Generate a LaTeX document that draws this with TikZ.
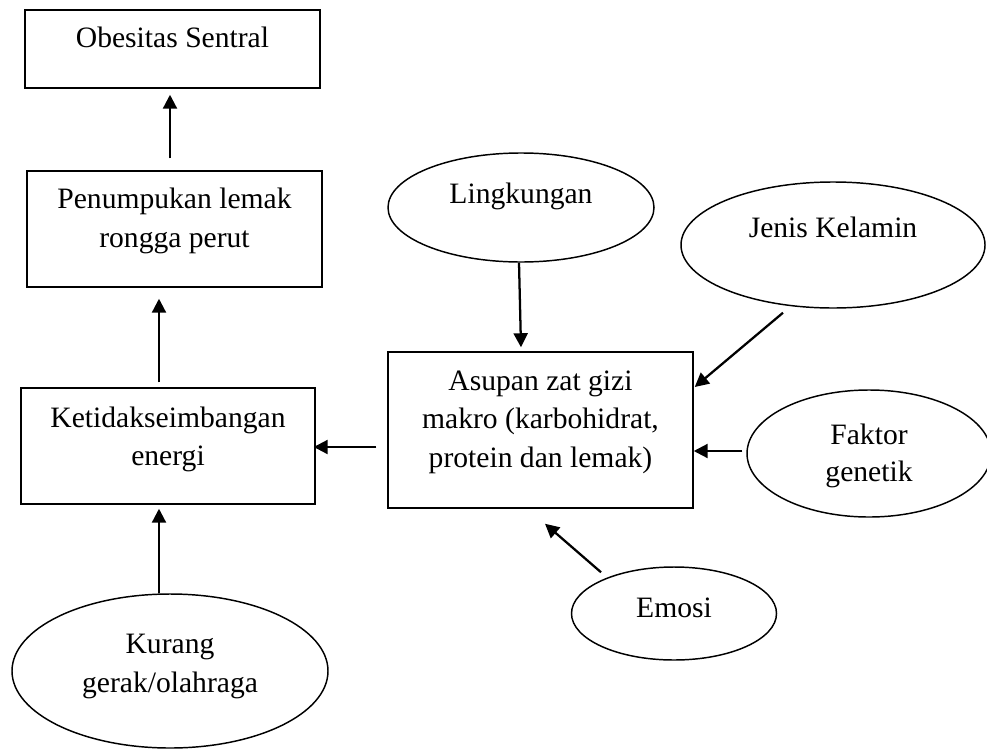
\documentclass[tikz,border=0pt]{standalone}
\usepackage{fontspec}
\setmainfont{Liberation Serif}
\usetikzlibrary{shapes.geometric,arrows.meta}
\begin{document}
\begin{tikzpicture}[x=0.75pt,y=-0.75pt,
  box/.style={draw, line width=1.1pt, inner sep=0pt, rectangle},
  oval/.style={draw, line width=1.1pt, inner sep=0pt, ellipse},
  txt/.style={anchor=base, inner sep=0pt, font=\fontsize{22.2pt}{29pt}\selectfont},
  arr/.style={line width=1.7pt, -{Triangle[length=10.5pt,width=10.5pt]}}]
\useasboundingbox (0,0) rectangle (987,749);
% boxes
\node[box, minimum width=221.25pt, minimum height=58.5pt] (obe) at (172.5,49) {};
\node[box, minimum width=221.25pt, minimum height=87pt] (pen) at (174.5,229) {};
\node[box, minimum width=220.5pt, minimum height=87pt] (ket) at (168,446) {};
\node[box, minimum width=228.75pt, minimum height=117pt] (asu) at (540.5,430) {};
% ellipses
\node[oval, minimum width=199.5pt, minimum height=81.75pt] (ling) at (521,207.5) {};
\node[oval, minimum width=228pt, minimum height=94.5pt] (jen) at (833,245) {};
\node[oval, minimum width=183pt, minimum height=95.25pt] (fak) at (869,453.5) {};
\node[oval, minimum width=153.75pt, minimum height=69.75pt] (emo) at (674,613.5) {};
\node[oval, minimum width=237pt, minimum height=115.5pt] (kur) at (170,671) {};
% texts
\node[txt] (obeT) at (172.5,48) {Obesitas Sentral};
\node[txt] (penT1) at (174.5,208) {Penumpukan lemak};
\node[txt] (penT2) at (174.5,247) {rongga perut};
\node[txt] (ketT1) at (168,427) {Ketidakseimbangan};
\node[txt] (ketT2) at (168,465) {energi};
\node[txt] (kurT1) at (170,653) {Kurang};
\node[txt] (kurT2) at (170,692) {gerak/olahraga};
\node[txt] (asuT1) at (540.5,390) {Asupan zat gizi};
\node[txt] (asuT2) at (540.5,428) {makro (karbohidrat,};
\node[txt] (asuT3) at (540.5,467) {protein dan lemak)};
\node[txt] (lingT) at (521,203) {Lingkungan};
\node[txt] (jenT) at (833,237) {Jenis Kelamin};
\node[txt] (fakT1) at (869,444) {Faktor};
\node[txt] (fakT2) at (869,481) {genetik};
\node[txt] (emoT) at (674,617) {Emosi};
% connectors
\draw[arr] ([xshift=-3.375pt,yshift=9pt]pen.north) -- ([xshift=-1.875pt,yshift=-4.5pt]obe.south);
\draw[arr] ([xshift=-6.75pt,yshift=3.75pt]ket.north) -- ([xshift=-11.625pt,yshift=-8.25pt]pen.south);
\draw[arr] ([xshift=-8.25pt]kur.north) -- ([xshift=-6.75pt,yshift=-3pt]ket.south);
\draw[arr] ([xshift=-8.25pt,yshift=-12.75pt]asu.west) -- ([xshift=-1.5pt,yshift=-0.75pt]ket.east);
\draw[arr] ([xshift=-1.5pt]ling.south) -- ([xshift=-14.625pt,yshift=3pt]asu.north);
\draw[arr] ([xshift=-37.5pt,yshift=-3pt]jen.south) -- ([xshift=0.75pt,yshift=32.25pt]asu.east);
\draw[arr] ([xshift=-3pt,yshift=1.875pt]fak.west) -- ([yshift=-15.75pt]asu.east);
\draw[arr] ([xshift=-54.75pt,yshift=-4.5pt]emo.north) -- ([xshift=3.375pt,yshift=-11.25pt]asu.south);
\end{tikzpicture}
\end{document}
